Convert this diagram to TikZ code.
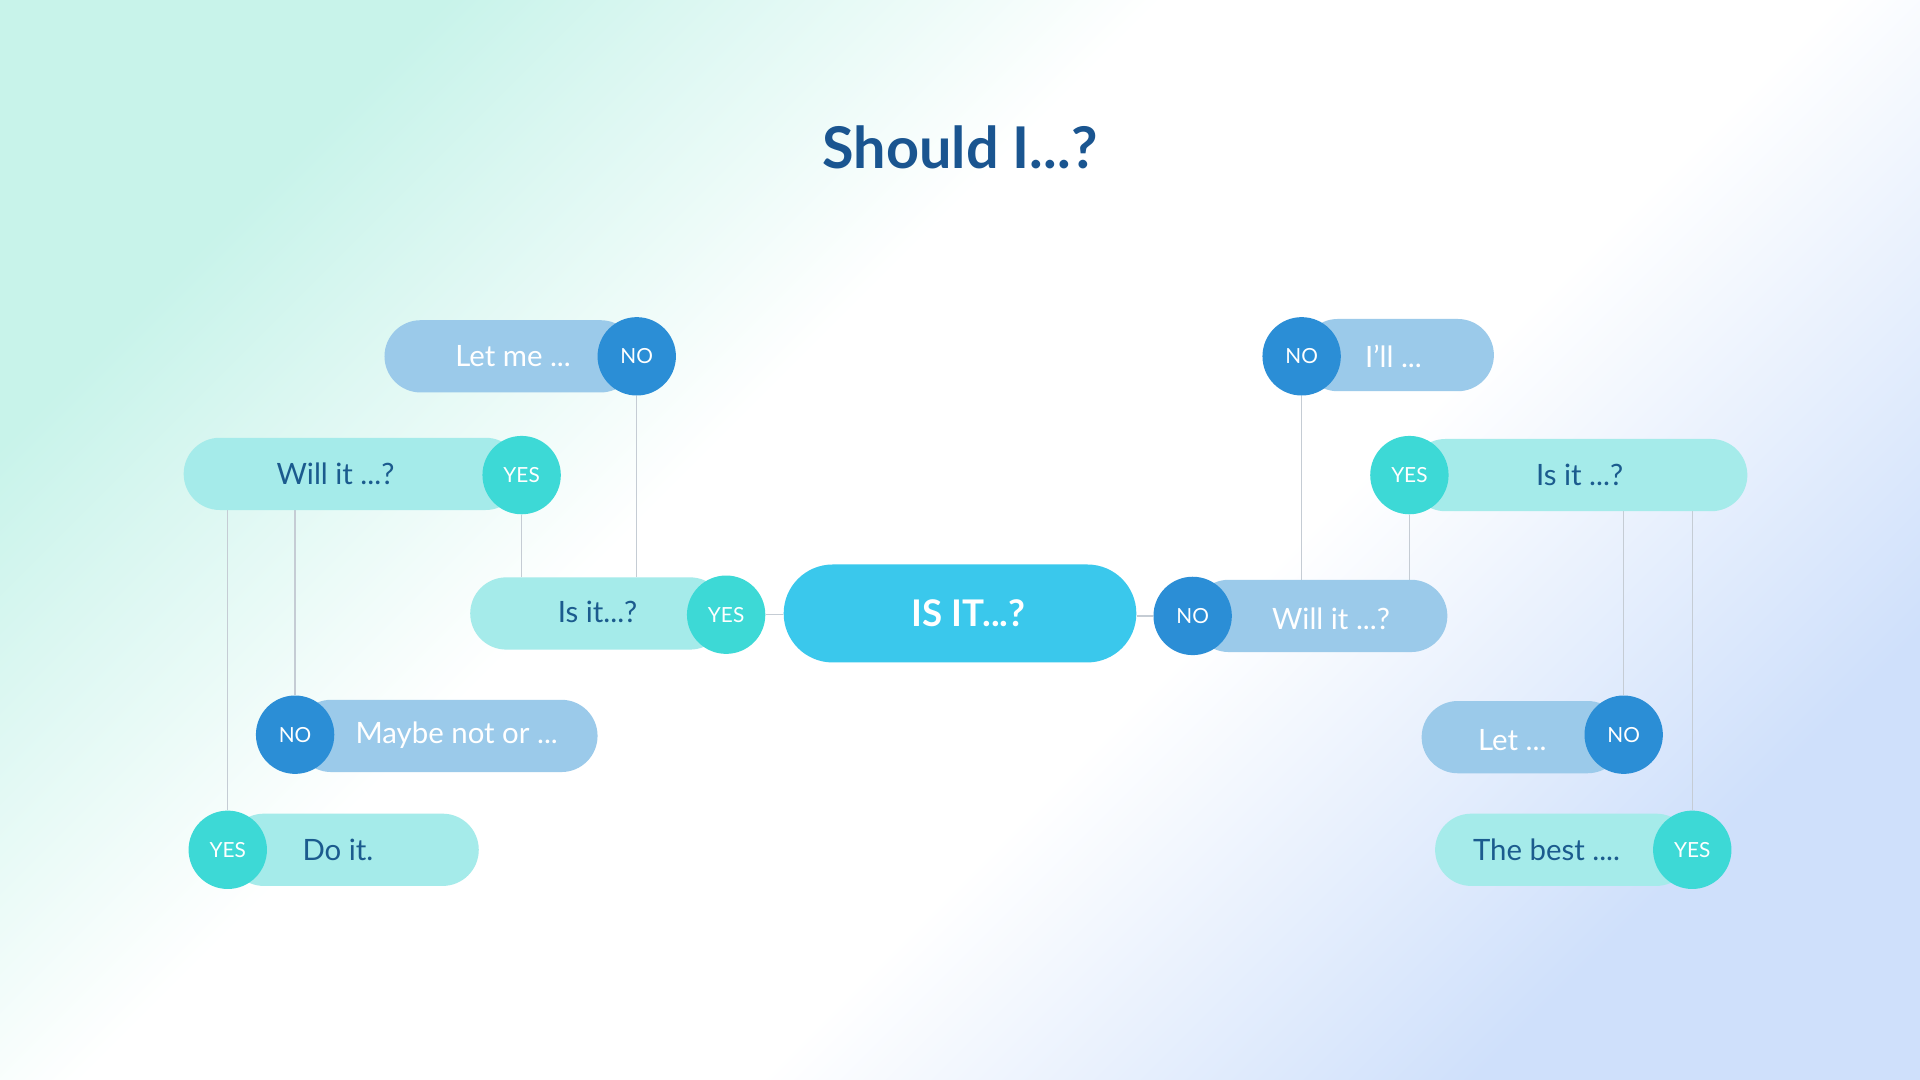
\documentclass[tikz,border=0pt]{standalone}
\usepackage{fontspec}
\setmainfont{Lato}
\usetikzlibrary{positioning,calc}
\definecolor{bgmint}{HTML}{C8F3EA}
\definecolor{bgblue}{HTML}{CFE0FB}
\definecolor{pillcyan}{HTML}{A5EBEA}
\definecolor{pillblue}{HTML}{9BCAEA}
\definecolor{yescol}{HTML}{3DD9D6}
\definecolor{nocol}{HTML}{2B8ED6}
\definecolor{centercol}{HTML}{3AC8EC}
\definecolor{textdark}{HTML}{1B5B8E}
\definecolor{titlecol}{HTML}{1A5590}
\definecolor{linecol}{HTML}{C5CCD4}
\pgfdeclarelayer{bg}
\pgfdeclarelayer{lines}
\pgfsetlayers{bg,lines,main}
\pgfdeclarehorizontalshading{bgshade}{100bp}{color(0bp)=(bgmint); color(25bp)=(bgmint); color(42bp)=(white); color(58bp)=(white); color(75bp)=(bgblue); color(100bp)=(bgblue)}
\tikzset{
  pillc/.style={rectangle, rounded corners=29.5pt, minimum height=59pt, inner sep=0pt, fill=pillcyan},
  pillb/.style={rectangle, rounded corners=29.5pt, minimum height=59pt, inner sep=0pt, fill=pillblue},
  yesnode/.style={circle, minimum size=64pt, inner sep=0pt, fill=yescol, text=white, font=\fontsize{17}{17}\selectfont},
  nonode/.style={circle, minimum size=64pt, inner sep=0pt, fill=nocol, text=white, font=\fontsize{17}{17}\selectfont},
  darktext/.style={text=textdark, inner sep=0pt, font=\fontsize{24}{24}\selectfont},
  whitetext/.style={text=white, inner sep=0pt, font=\fontsize{24}{24}\selectfont},
  link/.style={draw=linecol, line width=1.1pt}
}
\begin{document}
\begin{tikzpicture}[x=1pt,y=-1pt]
\useasboundingbox (0,0) rectangle (1568,882);
\begin{pgfonlayer}{bg}
  \fill[white] (0,0) rectangle (1568,882);
  \shade[shading=bgshade, shading angle=-45] (0,0) rectangle (1568,882);
\end{pgfonlayer}

% title
\node[text=titlecol, font=\fontsize{47}{47}\selectfont\bfseries] (title) at (784,120) {Should I...?};

% center
\node[rectangle, rounded corners=40pt, minimum height=80pt, minimum width=288pt, fill=centercol] (c) at (784,501) {};
\node[text=white, inner sep=0pt, font=\fontsize{30}{30}\selectfont\bfseries] (tc) at (791,501) {IS IT...?};

% left side
\node[pillc, minimum width=209pt] (pIsL) at (488.5,501) {};
\node[darktext] (tIsL) at (488,500) {Is it...?};
\node[yesnode] (yIsL) at (593,502) {YES};

\node[pillb, minimum width=206pt] (pLetme) at (417,291) {};
\node[whitetext] (tLetme) at (419,291) {Let me ...};
\node[nonode] (nLetme) at (520,291) {NO};

\node[pillc, minimum width=276pt] (pWillL) at (288,387) {};
\node[darktext] (tWillL) at (274,387) {Will it ...?};
\node[yesnode] (yWillL) at (426,388) {YES};

\node[pillb, minimum width=247pt] (pMaybe) at (364.5,601) {};
\node[whitetext] (tMaybe) at (373,600) {Maybe not or ...};
\node[nonode] (nMaybe) at (241,600) {NO};

\node[pillc, minimum width=205pt] (pDoit) at (288.5,694) {};
\node[darktext] (tDoit) at (276,694) {Do it.};
\node[yesnode] (yDoit) at (186,694) {YES};

% right side
\node[pillb, minimum width=208pt] (pWillR) at (1078,503) {};
\node[whitetext] (tWillR) at (1087,505) {Will it ...?};
\node[nonode] (nWillR) at (974,503) {NO};

\node[pillb, minimum width=157pt] (pIll) at (1141.5,290) {};
\node[whitetext] (tIll) at (1138,291) {I'll ...};
\node[nonode] (nIll) at (1063,291) {NO};

\node[pillc, minimum width=276pt] (pIsR) at (1289,388) {};
\node[darktext] (tIsR) at (1290,388) {Is it ...?};
\node[yesnode] (yIsR) at (1151,388) {YES};

\node[pillb, minimum width=165pt] (pLet) at (1243.5,602) {};
\node[whitetext] (tLet) at (1235,604) {Let ...};
\node[nonode] (nLet) at (1326,600) {NO};

\node[pillc, minimum width=210pt] (pBest) at (1277,694) {};
\node[darktext] (tBest) at (1263,694) {The best ....};
\node[yesnode] (yBest) at (1382,694) {YES};

% connectors
\begin{pgfonlayer}{lines}
  \draw[link] (yIsL.east) -- (yIsL.east -| c.west);
  \draw[link] (nLetme.south) -- (nLetme.south |- pIsL.north);
  \draw[link] (yWillL.south) -- (yWillL.south |- pIsL.north);
  \draw[link] (yDoit.north) -- (yDoit.north |- pWillL.south);
  \draw[link] (nMaybe.north) -- (nMaybe.north |- pWillL.south);
  \draw[link] (nWillR.west) -- (nWillR.west -| c.east);
  \draw[link] (nIll.south) -- (nIll.south |- pWillR.north);
  \draw[link] (yIsR.south) -- (yIsR.south |- pWillR.north);
  \draw[link] (nLet.north) -- (nLet.north |- pIsR.south);
  \draw[link] (yBest.north) -- (yBest.north |- pIsR.south);
\end{pgfonlayer}
\end{tikzpicture}
\end{document}
